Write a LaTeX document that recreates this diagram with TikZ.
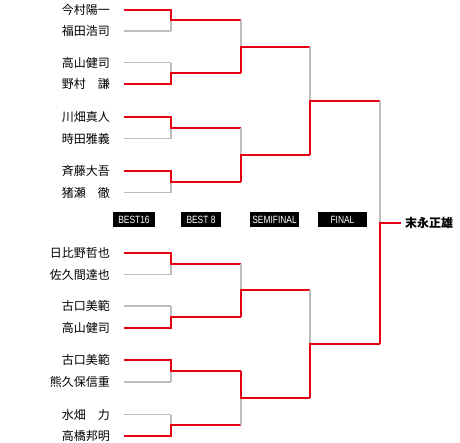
\documentclass[tikz,border=0pt]{standalone}
\usepackage{fontspec}
\newfontfamily\jpfont{Noto Sans CJK JP}
\newfontfamily\labfont[FakeStretch=0.8]{Liberation Sans}
\usepackage{tikz}
\usetikzlibrary{positioning,calc}
\definecolor{winred}{HTML}{E60012}
\definecolor{losegray}{HTML}{BDBDBD}

\begin{document}
\begin{tikzpicture}[
  x=1pt, y=-1pt,
  player/.style={font=\jpfont\fontsize{12}{12}\selectfont, inner sep=1pt},
  champion/.style={font=\jpfont\bfseries\fontsize{12}{12}\selectfont, inner sep=4pt},
  stagebox/.style={fill=black, text=white, font=\labfont\fontsize{10.5}{10.5}\selectfont, inner sep=1pt, minimum height=14.4pt},
  win/.style={draw=winred, line width=2pt},
  lose/.style={draw=losegray, line width=1.2pt}
]
\useasboundingbox (0,0) rectangle (460,442);
% entry points of the sixteen players
\foreach \i/\y in {1/9.5, 2/31, 3/62.5, 4/84, 5/117, 6/138.5, 7/171, 8/192.5,
  9/253, 10/274.5, 11/306, 12/328, 13/360, 14/382, 15/414.5, 16/436}
  {\coordinate (e\i) at (124,\y);}
\foreach \i/\n in {1/今村陽一, 2/福田浩司, 3/高山健司, 4/野村　謙, 5/川畑真人, 6/時田雅義,
  7/斉藤大吾, 8/猪瀬　徹, 9/日比野哲也, 10/佐久間達也, 11/古口美範, 12/高山健司,
  13/古口美範, 14/熊久保信重, 15/水畑　力, 16/高橋邦明}
  {\node[player, left=13pt of e\i] (p\i) {\n};}
% junctions of each round
\foreach \k/\a/\b in {1/1/2, 2/3/4, 3/5/6, 4/7/8, 5/9/10, 6/11/12, 7/13/14, 8/15/16}
  {\coordinate (m\k) at ($(e\a)!0.5!(e\b)+(47,0)$);}
\foreach \k/\a/\b in {1/1/2, 2/3/4, 3/5/6, 4/7/8}
  {\coordinate (q\k) at ($(m\a)!0.5!(m\b)+(70,0)$);}
\foreach \k/\a/\b in {1/1/2, 2/3/4}
  {\coordinate (h\k) at ($(q\a)!0.5!(q\b)+(69,0)$);}
\coordinate (f) at ($(h1)!0.5!(h2)+(70,0)$);
\node[champion, right=21pt of f, anchor=west] (champ) {末永正雄};
% round labels
\node[stagebox, minimum width=42.5pt] (lb16) at (134,219.5) {BEST16};
\node[stagebox, minimum width=40pt] (lb8) at (201,219.5) {BEST 8};
\node[stagebox, minimum width=49pt] (lsemi) at (274.5,219.5) {SEMIFINAL};
\node[stagebox, minimum width=49pt] (lfinal) at (342.5,219.5) {FINAL};
% first round: k / top / bottom / winner / loser / next
\foreach \k/\a/\b/\w/\l/\n in {1/1/2/1/2/1, 2/3/4/4/3/1, 3/5/6/5/6/2, 4/7/8/7/8/2,
  5/9/10/9/10/3, 6/11/12/12/11/3, 7/13/14/13/14/4, 8/15/16/16/15/4}{
  \draw[lose] (e\l) -- (e\l -| m\k);
  \draw[lose] (e\a -| m\k) -- (e\b -| m\k);
  \draw[win] (e\w) -- (e\w -| m\k) -- (m\k) -- (m\k -| q\n);
}
% best 8
\foreach \k/\a/\b/\w/\n in {1/1/2/2/1, 2/3/4/4/1, 3/5/6/6/2, 4/7/8/7/2}{
  \draw[lose] (m\a -| q\k) -- (m\b -| q\k);
  \draw[win] (m\w -| q\k) -- (q\k) -- (q\k -| h\n);
}
% semifinals
\foreach \k/\a/\b/\w in {1/1/2/2, 2/3/4/4}{
  \draw[lose] (q\a -| h\k) -- (q\b -| h\k);
  \draw[win] (q\w -| h\k) -- (h\k) -- (h\k -| f);
}
% final
\draw[lose] (h1 -| f) -- (h2 -| f);
\draw[win] (h2 -| f) -- (f) -- (champ.west);
\end{tikzpicture}
\end{document}
